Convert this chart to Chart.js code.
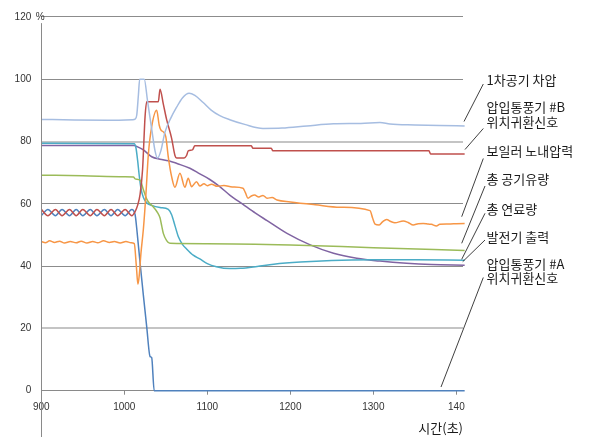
<!DOCTYPE html>
<html>
<head>
<meta charset="utf-8">
<script src="https://cdn.jsdelivr.net/npm/chart.js@4.4.1/dist/chart.umd.min.js"></script>
<style>
  html, body { margin: 0; padding: 0; background: #ffffff; }
  #wrap { width: 592px; height: 437px; position: relative; }
</style>
</head>
<body>
<div id="wrap"><canvas id="chart" width="592" height="437"></canvas></div>
<script>
// Time axis (s) and percent axis ranges
const xRange = [900, 1408];
const yRange = [0, 120];
const xTickValues = [900, 1000, 1100, 1200, 1300, 1400];
const xTickLabels = ['900', '1000', '1100', '1200', '1300', '140'];
const yStep = 20;

// Series names, in the order the side labels are stacked
const seriesNames = [
  '1차공기 차압',
  '압입통풍기 #B 위치귀환신호',
  '보일러 노내압력',
  '총 공기유량',
  '총 연료량',
  '발전기 출력',
  '압입통풍기 #A 위치귀환신호'
];

// [time s, value %]
const primaryAirDp = [
  [900, 87.1], [940, 86.9], [980, 86.8], [1010, 87.0], [1013, 87.2], [1015, 88.5], [1017, 95],
  [1018.5, 100], [1024, 100], [1028, 93], [1033, 84], [1037, 77], [1040, 74.7], [1044, 77],
  [1049, 83], [1056, 87.5], [1063, 91], [1070, 94], [1078, 95.5], [1085, 94.8], [1095, 92.5],
  [1105, 90], [1115, 88.3], [1127, 87], [1145, 85.5], [1167, 84.2], [1190, 84.3], [1220, 85],
  [1252, 85.7], [1285, 85.8], [1308, 86.1], [1320, 85.6], [1350, 85.3], [1380, 85.1], [1410, 85.0]
];

const fanBPosition = [
  [900, 58.2], [908, 56.2], [917, 58.2], [925, 56.2], [934, 58.2], [942, 56.2], [950, 58.2],
  [959, 56.2], [967, 58.2], [976, 56.2], [984, 58.2], [992, 56.2], [1001, 58.2], [1009, 56.2],
  [1013, 57.5], [1016, 59.5], [1019, 63], [1022, 71], [1025, 88], [1027, 92.8], [1041, 92.8],
  [1043, 96.8], [1047, 92], [1051, 87], [1057, 81], [1061, 75.5], [1063, 74.7], [1072, 74.7],
  [1075, 75.5], [1077, 77], [1082, 77.3], [1085, 78.6], [1153, 78.6], [1155, 77.8], [1177, 77.8],
  [1179, 77.0], [1367, 77.0], [1369, 76.0], [1410, 76.0]
];

const furnacePressure = [
  [900, 47.9], [905, 47.5], [910, 48.1], [916, 47.6], [922, 48.0], [928, 47.4], [935, 47.9],
  [942, 47.5], [948, 48.0], [955, 47.4], [962, 47.9], [968, 47.5], [975, 48.1], [982, 47.6],
  [988, 47.9], [995, 47.4], [1002, 47.9], [1008, 47.5], [1012, 47.2], [1014.5, 40], [1016.4, 34.2],
  [1018, 37], [1020, 44], [1023, 52], [1026, 63], [1029, 76], [1033, 84.8], [1039, 90],
  [1042, 85.3], [1044, 83.7], [1047, 83.1], [1050, 81.5], [1053, 75], [1057, 68.7], [1061, 65.3],
  [1067, 69.8], [1073, 65.3], [1077, 68.2], [1081, 65.5], [1087, 67.1], [1091, 65.7], [1096, 66.4],
  [1100, 65.8], [1105, 66.3], [1112, 65.6], [1120, 65.9], [1130, 65.4], [1143, 65.0], [1146, 63.5],
  [1149, 61.8], [1153, 62.5], [1157, 62.8], [1162, 62.2], [1167, 62.7], [1172, 61.8], [1178, 62.0],
  [1184, 61.2], [1200, 60.6], [1230, 59.7], [1260, 58.9], [1296, 57.8], [1299, 55.5], [1302, 53.5],
  [1307, 53.2], [1311, 54.2], [1316, 55.0], [1321, 54.3], [1326, 53.9], [1336, 54.5], [1342, 54.0],
  [1348, 53.2], [1354, 53.6], [1360, 53.7], [1366, 53.5], [1370, 53.4], [1376, 52.9], [1380, 53.4],
  [1390, 53.5], [1400, 53.6], [1410, 53.7]
];

const totalAirFlow = [
  [900, 69.2], [950, 69.0], [1000, 68.7], [1011, 68.6], [1013, 68.0], [1019, 67.6], [1023, 64.5],
  [1027, 61.5], [1031, 60], [1035, 59], [1040, 57.2], [1043, 55.5], [1045, 53], [1047, 50.5],
  [1051, 48.2], [1055, 47.3], [1100, 47.2], [1200, 46.8], [1300, 45.9], [1410, 45.0]
];

const totalFuel = [
  [900, 79.4], [1012, 79.3], [1014, 78], [1016, 74], [1018, 69], [1020, 65], [1023, 62],
  [1027, 60.3], [1033, 59.5], [1043, 58.8], [1053, 58.2], [1057, 56.5], [1061, 53], [1065, 49.5],
  [1070, 47], [1075, 45.5], [1083, 43.5], [1091, 42.3], [1100, 40.8], [1111, 39.8], [1127, 39.2],
  [1140, 39.3], [1160, 39.9], [1180, 40.6], [1212, 41.3], [1250, 41.8], [1300, 42.0], [1350, 42.0],
  [1410, 41.9]
];

const generatorOutput = [
  [900, 78.7], [1012, 78.7], [1015, 78.4], [1023, 77.3], [1033, 75.1], [1043, 74.3], [1053, 73.8],
  [1065, 72.8], [1079, 71.4], [1091, 69.6], [1103, 67.8], [1115, 65.5], [1127, 62.8], [1143, 59.8],
  [1158, 57.0], [1172, 54.6], [1196, 50.5], [1224, 46.8], [1252, 44.1], [1280, 42.5], [1308, 41.6],
  [1340, 40.9], [1370, 40.5], [1410, 40.3]
];

const fanAPosition = [
  [900, 56.2], [908, 58.2], [917, 56.2], [925, 58.2], [934, 56.2], [942, 58.2], [950, 56.2],
  [959, 58.2], [967, 56.2], [976, 58.2], [984, 56.2], [992, 58.2], [1001, 56.2], [1009, 58.2],
  [1013, 56.5], [1015, 52], [1019, 41], [1023, 30.5], [1027, 20.5], [1031, 11], [1033, 10.6],
  [1036, 0], [1410, 0]
];

const seriesData = [primaryAirDp, fanBPosition, furnacePressure, totalAirFlow, totalFuel, generatorOutput, fanAPosition];
const seriesColors = ['#a6bde1', '#c0504d', '#f79646', '#9bbb59', '#4bacc6', '#8064a2', '#4f81bd'];

const toPoints = rows => rows.map(([x, y]) => ({ x, y }));

const datasets = seriesData.map((rows, i) => ({
  label: seriesNames[i],
  data: toPoints(rows),
  borderColor: seriesColors[i],
  backgroundColor: seriesColors[i],
  borderWidth: 1.5,
  pointRadius: 0,
  cubicInterpolationMode: 'monotone',
  fill: false,
  clip: 4
}));

// Side labels with leader lines to the ends of the traces
const sideLabels = [
  { text: ['1차공기 차압'], y: 79.7, from: [483.3, 84], to: [464, 121.5] },
  { text: ['압입통풍기 #B', '위치귀환신호'], y: 107.5, from: [483.3, 128.5], to: [465, 149.5] },
  { text: ['보일러 노내압력'], y: 151, from: [483.3, 158.5], to: [461.7, 216.7] },
  { text: ['총 공기유량'], y: 179, from: [485, 186], to: [461.7, 243.3] },
  { text: ['총 연료량'], y: 209, from: [485, 213.3], to: [461.7, 259.3] },
  { text: ['발전기 출력'], y: 236.7, from: [485, 240], to: [462.7, 261.7] },
  { text: ['압입통풍기 #A', '위치귀환신호'], y: 264, from: [483.3, 277.5], to: [441, 387] }
];

const KR_FONT = "'Noto Sans CJK KR', 'Noto Sans', sans-serif";
const NUM_FONT = "'Liberation Sans', Arial, sans-serif";

const decorations = {
  id: 'decorations',
  afterDraw(chart) {
    const ctx = chart.ctx;
    const { left } = chart.chartArea;
    const yScale = chart.scales.y;
    ctx.save();

    // vertical value axis running down to the canvas edge
    const ax = Math.round(left) + 0.5;
    ctx.strokeStyle = '#8a8a8a';
    ctx.lineWidth = 1;
    ctx.beginPath();
    ctx.moveTo(ax, yScale.getPixelForValue(118));
    ctx.lineTo(ax, chart.height);
    ctx.stroke();

    // unit next to the top tick
    ctx.fillStyle = '#333333';
    ctx.font = '10px ' + NUM_FONT;
    ctx.textAlign = 'left';
    ctx.textBaseline = 'middle';
    ctx.fillText('%', left - 5.5, yScale.getPixelForValue(120));

    // side labels
    ctx.fillStyle = '#1a1a1a';
    ctx.font = '13px ' + KR_FONT;
    ctx.textAlign = 'left';
    ctx.textBaseline = 'middle';
    sideLabels.forEach(lab => {
      lab.text.forEach((t, k) => ctx.fillText(t, 486.5, lab.y + k * 14.5));
      ctx.strokeStyle = '#2a2a2a';
      ctx.lineWidth = 0.9;
      ctx.beginPath();
      ctx.moveTo(lab.from[0], lab.from[1]);
      ctx.lineTo(lab.to[0], lab.to[1]);
      ctx.stroke();
    });
    ctx.restore();
  }
};

new Chart(document.getElementById('chart'), {
  type: 'line',
  data: { datasets },
  options: {
    responsive: false,
    animation: false,
    devicePixelRatio: 1,
    layout: { padding: { top: 16.9, right: 129, bottom: 0, left: 0 } },
    plugins: { legend: { display: false }, tooltip: { enabled: false } },
    scales: {
      x: {
        type: 'linear',
        min: xRange[0],
        max: xRange[1],
        afterBuildTicks: s => { s.ticks = xTickValues.map(v => ({ value: v })); },
        ticks: {
          autoSkip: false,
          maxRotation: 0,
          padding: 7,
          color: '#333333',
          font: { family: NUM_FONT, size: 10 },
          callback: v => xTickLabels[xTickValues.indexOf(v)]
        },
        grid: { drawOnChartArea: false, drawTicks: true, tickLength: 4, color: '#8a8a8a' },
        border: { display: true, color: '#8a8a8a', width: 1 },
        title: {
          display: true,
          text: '시간(초)',
          align: 'end',
          color: '#1a1a1a',
          font: { family: KR_FONT, size: 13 },
          padding: { top: 0, bottom: 1 }
        },
        afterFit: s => { s.height = 46.3; }
      },
      y: {
        min: yRange[0],
        max: yRange[1],
        ticks: {
          stepSize: yStep,
          padding: 10,
          color: '#333333',
          font: { family: NUM_FONT, size: 10 }
        },
        grid: {
          drawTicks: false,
          color: c => {
            const v = c.tick ? c.tick.value : null;
            if (v === 0) return 'rgba(0,0,0,0)';
            return (v === 80 || v === 20) ? '#c4c4c4' : '#8c8c8c';
          },
          lineWidth: c => {
            const v = c.tick ? c.tick.value : null;
            return (v === 80 || v === 20) ? 2 : 1;
          }
        },
        border: { display: false },
        afterFit: s => { s.width = 41.3; }
      }
    }
  },
  plugins: [decorations]
});
</script>
</body>
</html>
